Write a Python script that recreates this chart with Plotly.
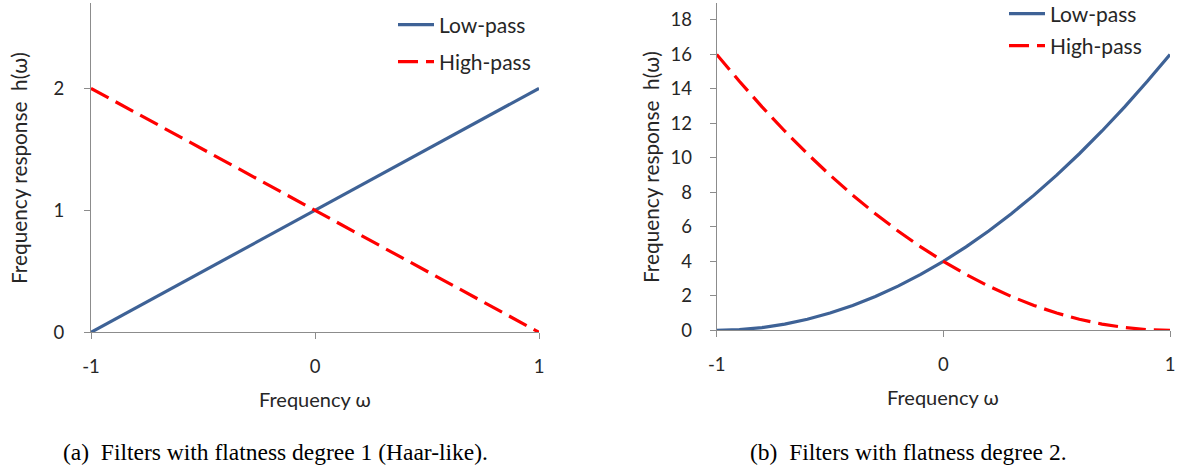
import plotly.graph_objects as go

# ---- data ----
omega = [-1.0, -0.9, -0.8, -0.7, -0.6, -0.5, -0.4, -0.3, -0.2, -0.1, 0.0,
         0.1, 0.2, 0.3, 0.4, 0.5, 0.6, 0.7, 0.8, 0.9, 1.0]

low_deg1 = [0.0, 0.1, 0.2, 0.3, 0.4, 0.5, 0.6, 0.7, 0.8, 0.9, 1.0,
            1.1, 1.2, 1.3, 1.4, 1.5, 1.6, 1.7, 1.8, 1.9, 2.0]
high_deg1 = [2.0, 1.9, 1.8, 1.7, 1.6, 1.5, 1.4, 1.3, 1.2, 1.1, 1.0,
             0.9, 0.8, 0.7, 0.6, 0.5, 0.4, 0.3, 0.2, 0.1, 0.0]

low_deg2 = [0.0, 0.04, 0.16, 0.36, 0.64, 1.0, 1.44, 1.96, 2.56, 3.24, 4.0,
            4.84, 5.76, 6.76, 7.84, 9.0, 10.24, 11.56, 12.96, 14.44, 16.0]
high_deg2 = [16.0, 14.44, 12.96, 11.56, 10.24, 9.0, 7.84, 6.76, 5.76, 4.84, 4.0,
             3.24, 2.56, 1.96, 1.44, 1.0, 0.64, 0.36, 0.16, 0.04, 0.0]

x_ticks = [-1, 0, 1]
x_tick_labels = ["-1", "0", "1"]
y_ticks_a = [0, 1, 2]
y_ticks_b = [0, 2, 4, 6, 8, 10, 12, 14, 16, 18]

series_names = ["Low-pass", "High-pass"]
captions = ["(a)  Filters with flatness degree 1 (Haar-like).",
            "(b)  Filters with flatness degree 2."]
x_title = "Frequency ω"
y_title = "Frequency response  h(ω)"

# ---- styling ----
W, H = 1181, 474
BLUE = "#3E6296"
RED = "#FF0000"
AX = "#8C8C8C"
TXT = "#262626"
FONT = "Lato"
LW = 3.2
DASH = "20px,8px"

def px_x(p):
    return p / W

def px_y(p):
    return 1 - p / H

fig = go.Figure()

fig.add_trace(go.Scatter(x=omega, y=low_deg1, mode="lines", name=series_names[0],
                         line=dict(color=BLUE, width=LW), xaxis="x", yaxis="y",
                         legend="legend", showlegend=True))
fig.add_trace(go.Scatter(x=omega, y=high_deg1, mode="lines", name=series_names[1],
                         line=dict(color=RED, width=LW, dash=DASH), xaxis="x", yaxis="y",
                         legend="legend2", showlegend=True))
fig.add_trace(go.Scatter(x=omega, y=low_deg2, mode="lines", name=series_names[0],
                         line=dict(color=BLUE, width=LW), xaxis="x2", yaxis="y2",
                         legend="legend3", showlegend=True))
fig.add_trace(go.Scatter(x=omega, y=high_deg2, mode="lines", name=series_names[1],
                         line=dict(color=RED, width=LW, dash=DASH), xaxis="x2", yaxis="y2",
                         legend="legend4", showlegend=True))

axis_common = dict(showline=True, linecolor=AX, linewidth=1, showgrid=False,
                   zeroline=False, ticks="outside", ticklen=6, tickcolor=AX,
                   tickwidth=1, tickfont=dict(family=FONT, size=18.5, color=TXT),
                   fixedrange=True, automargin=False)

dom_a_x = [px_x(91), px_x(539)]
dom_b_x = [px_x(716.7), px_x(1170)]
dom_a_y = [px_y(332.3), px_y(3)]
dom_b_y = [px_y(330.3), px_y(2.7)]

fig.update_layout(
    width=W, height=H, margin=dict(l=0, r=0, t=0, b=0, autoexpand=False),
    showlegend=True,
    paper_bgcolor="white", plot_bgcolor="white",
    xaxis=dict(domain=dom_a_x, range=[-1, 1], tickvals=x_ticks, ticktext=x_tick_labels,
               anchor="y", ticklabelstandoff=11, **axis_common),
    yaxis=dict(domain=dom_a_y, range=[0, 2.7], tickvals=y_ticks_a, anchor="x",
               ticklabelstandoff=16, **axis_common),
    xaxis2=dict(domain=dom_b_x, range=[-1, 1], tickvals=x_ticks, ticktext=x_tick_labels,
                anchor="y2", ticklabelstandoff=11, **axis_common),
    yaxis2=dict(domain=dom_b_y, range=[0, 19], tickvals=y_ticks_b, anchor="x2",
                ticklabelstandoff=14, **axis_common),
)

leg_common = dict(font=dict(family=FONT, size=21, color=TXT), bgcolor="rgba(0,0,0,0)",
                  borderwidth=0, xanchor="left", yanchor="middle", itemwidth=36,
                  xref="paper", yref="paper")
fig.update_layout(
    legend=dict(x=px_x(393), y=px_y(25), **leg_common),
    legend2=dict(x=px_x(393), y=px_y(62), **leg_common),
    legend3=dict(x=px_x(1004), y=px_y(14), **leg_common),
    legend4=dict(x=px_x(1004), y=px_y(46), **leg_common),
)

annos = []
for cx, cy in [(315, 399), (943, 397)]:
    annos.append(dict(text=x_title, x=px_x(cx), y=px_y(cy), xref="paper", yref="paper",
                      showarrow=False, xanchor="center", yanchor="middle",
                      font=dict(family=FONT, size=20, color=TXT)))
for cx, cy in [(18, 168), (650, 167)]:
    annos.append(dict(text=y_title, x=px_x(cx), y=px_y(cy), xref="paper", yref="paper",
                      showarrow=False, xanchor="center", yanchor="middle", textangle=-90,
                      font=dict(family=FONT, size=20.8, color=TXT)))
for cx, txt in [(275, captions[0]), (908, captions[1])]:
    annos.append(dict(text=txt, x=px_x(cx), y=px_y(452), xref="paper", yref="paper",
                      showarrow=False, xanchor="center", yanchor="middle",
                      font=dict(family="Liberation Serif", size=23.5, color="#000000")))
fig.update_layout(annotations=annos)

fig.write_html("out.html")
